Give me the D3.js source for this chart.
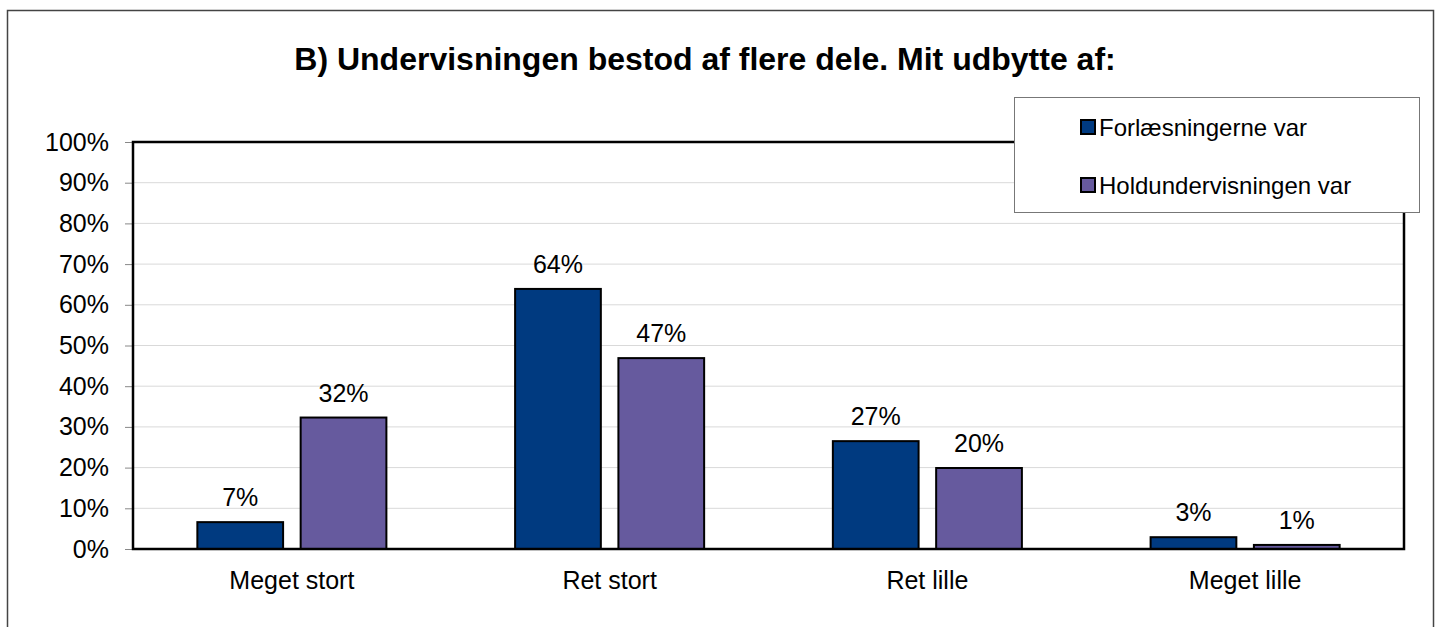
<!DOCTYPE html>
<html>
<head>
<meta charset="utf-8">
<script src="https://cdn.jsdelivr.net/npm/d3@7"></script>
<style>
  html, body { margin: 0; padding: 0; background: #fff; }
  svg { display: block; font-family: "Liberation Sans", Arial, sans-serif; }
</style>
</head>
<body>
<svg id="chart" width="1442" height="627"></svg>
<script>
const title = "B) Undervisningen bestod af flere dele. Mit udbytte af:";
const categories = ["Meget stort", "Ret stort", "Ret lille", "Meget lille"];
const seriesNames = ["Forlæsningerne var", "Holdundervisningen var"];
const forlaesninger = [0.066, 0.639, 0.265, 0.029];
const holdundervisning = [0.323, 0.469, 0.199, 0.010];
const dataLabels = [["7%", "64%", "27%", "3%"], ["32%", "47%", "20%", "1%"]];
const yTicks = [0, 0.1, 0.2, 0.3, 0.4, 0.5, 0.6, 0.7, 0.8, 0.9, 1.0];
const colors = ["#003A80", "#665A9E"];

const seriesValues = [forlaesninger, holdundervisning];

const svg = d3.select("#chart");
const plot = { left: 133, right: 1404, top: 142, bottom: 549 };

// outer frame
svg.append("rect")
  .attr("x", 7.5).attr("y", 10.5)
  .attr("width", 1426).attr("height", 640)
  .attr("fill", "#fff").attr("stroke", "#444").attr("stroke-width", 1.5);

// title
svg.append("text")
  .attr("x", 705).attr("y", 70)
  .attr("text-anchor", "middle")
  .attr("font-size", 32).attr("font-weight", "bold")
  .attr("fill", "#000")
  .text(title);

const y = d3.scaleLinear().domain([0, 1]).range([plot.bottom, plot.top]);
const x0 = d3.scaleBand().domain(categories).range([plot.left, plot.right]).padding(0);
const x1 = d3.scaleBand().domain(seriesNames).range([0, x0.bandwidth()])
  .paddingInner(0.17).paddingOuter(0.623);

// gridlines
svg.append("g").selectAll("line")
  .data(yTicks.slice(1))
  .join("line")
  .attr("x1", plot.left).attr("x2", plot.right)
  .attr("y1", d => y(d)).attr("y2", d => y(d))
  .attr("stroke", "#d9d9d9").attr("stroke-width", 1);

// y axis
const yAxis = d3.axisLeft(y).tickValues(yTicks).tickFormat(d3.format(".0%"))
  .tickSize(8).tickPadding(16);
const gy = svg.append("g").attr("transform", `translate(${plot.left},0)`).call(yAxis);
gy.select(".domain").remove();
gy.selectAll(".tick line").attr("stroke", "#888").attr("stroke-width", 1);
gy.selectAll(".tick text").attr("font-size", 25).attr("fill", "#000")
  .attr("font-family", "'Liberation Sans', Arial, sans-serif");

// x axis labels
const xAxis = d3.axisBottom(x0).tickSize(0).tickPadding(22);
const gx = svg.append("g").attr("transform", `translate(0,${plot.bottom})`).call(xAxis);
gx.select(".domain").remove();
gx.selectAll(".tick text").attr("font-size", 25).attr("fill", "#000")
  .attr("font-family", "'Liberation Sans', Arial, sans-serif");

// bars
const barData = [];
categories.forEach((c, i) => {
  seriesNames.forEach((s, j) => {
    barData.push({ cat: c, ser: s, si: j, v: seriesValues[j][i], label: dataLabels[j][i] });
  });
});

svg.append("g").selectAll("rect")
  .data(barData)
  .join("rect")
  .attr("x", d => x0(d.cat) + x1(d.ser))
  .attr("y", d => y(d.v))
  .attr("width", x1.bandwidth())
  .attr("height", d => y(0) - y(d.v))
  .attr("fill", d => colors[d.si])
  .attr("stroke", "#000").attr("stroke-width", 2);

svg.append("g").selectAll("text")
  .data(barData)
  .join("text")
  .attr("x", d => x0(d.cat) + x1(d.ser) + x1.bandwidth() / 2)
  .attr("y", d => y(d.v) - 16)
  .attr("text-anchor", "middle")
  .attr("font-size", 25).attr("fill", "#000")
  .text(d => d.label);

// plot border
svg.append("rect")
  .attr("x", plot.left).attr("y", plot.top)
  .attr("width", plot.right - plot.left).attr("height", plot.bottom - plot.top)
  .attr("fill", "none").attr("stroke", "#000").attr("stroke-width", 2.5);

// legend
const lg = svg.append("g");
lg.append("rect")
  .attr("x", 1014.5).attr("y", 97.5).attr("width", 405).attr("height", 115)
  .attr("fill", "#fff").attr("stroke", "#777").attr("stroke-width", 1);
const li = lg.selectAll("g.item").data(seriesNames).join("g").attr("class", "item")
  .attr("transform", (d, i) => `translate(1081,${127 + i * 58})`);
li.append("rect")
  .attr("x", 0).attr("y", -7).attr("width", 14).attr("height", 14)
  .attr("fill", (d, i) => colors[i]).attr("stroke", "#000").attr("stroke-width", 2);
li.append("text")
  .attr("x", 18).attr("y", 8.5)
  .attr("font-size", 24).attr("fill", "#000")
  .text(d => d);
</script>
</body>
</html>
